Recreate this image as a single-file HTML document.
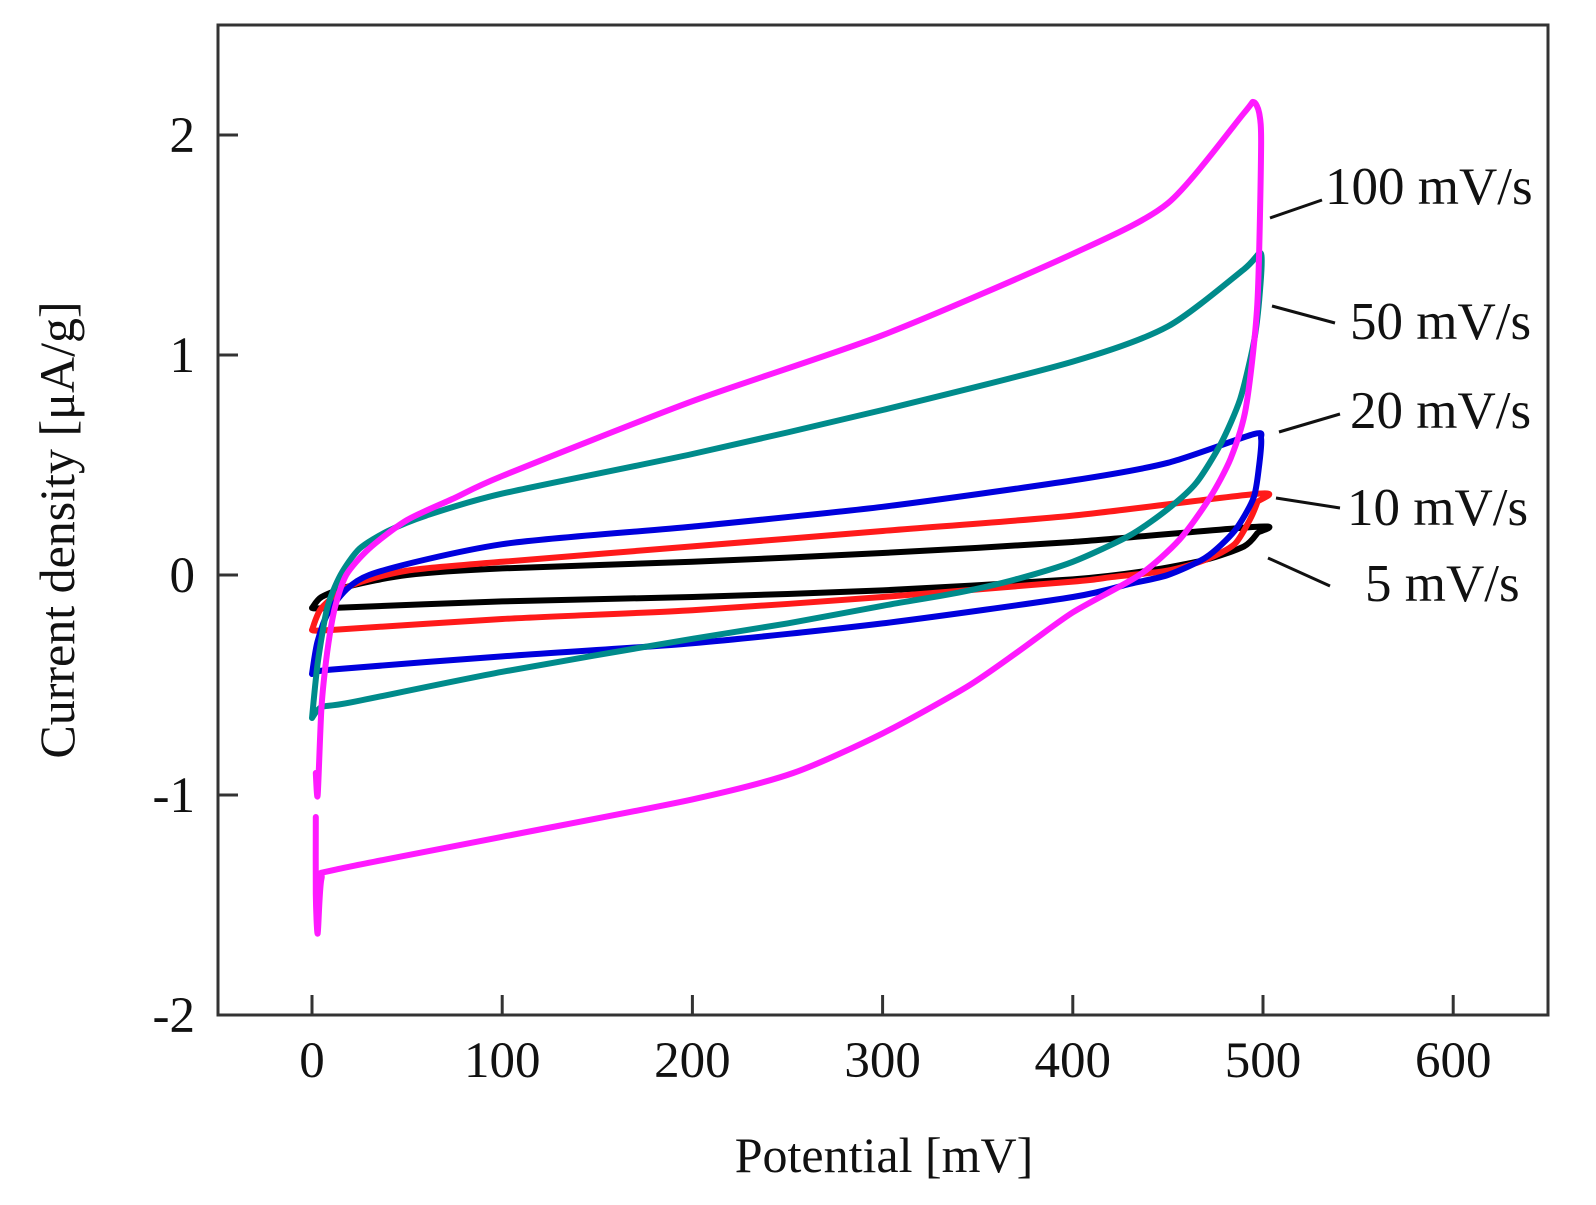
<!DOCTYPE html>
<html><head><meta charset="utf-8"><style>
html,body{margin:0;padding:0;background:#fff;}
svg{display:block;font-family:"Liberation Serif",serif;}
</style></head><body>
<svg id="chart" width="1596" height="1205" viewBox="0 0 1596 1205" xmlns="http://www.w3.org/2000/svg">
<g id="marks"></g>
<rect x="218" y="25" width="1330" height="990" fill="none" stroke="#333" stroke-width="3"/>
<g id="axes"></g>
<text x="884" y="1172" font-size="50" text-anchor="middle" fill="#111">Potential [mV]</text>
<text transform="translate(74,530) rotate(-90)" font-size="50" text-anchor="middle" fill="#111">Current density [μA/g]</text>
<g stroke="#111" stroke-width="3" font-size="53" fill="#111">
<line x1="1270" y1="218" x2="1322" y2="200"/>
<text x="1325" y="204" stroke="none">100 mV/s</text>
<line x1="1272" y1="306" x2="1335" y2="323"/>
<text x="1350" y="339" stroke="none">50 mV/s</text>
<line x1="1279" y1="432" x2="1340" y2="414"/>
<text x="1350" y="428" stroke="none">20 mV/s</text>
<line x1="1276" y1="498" x2="1340" y2="508"/>
<text x="1347" y="525" stroke="none">10 mV/s</text>
<line x1="1268" y1="558" x2="1330" y2="586"/>
<text x="1365" y="601" stroke="none">5 mV/s</text>
</g>
</svg>
<script>
const xTicks = [0,100,200,300,400,500,600];
const yTicks = [-2,-1,0,1,2];
const yTickLabels = ["-2","-1","0","1","2"];
const s100x = [2,3,5,8,12,18,30,50,75,100,200,300,400,450,490,495,498,499,497,491,483,472,456,435,400,371,344,300,253,200,100,12,5,3,2,2];
const s100y = [-0.9,-1.0,-0.6,-0.35,-0.15,0.0,0.12,0.25,0.35,0.45,0.79,1.09,1.46,1.69,2.1,2.15,2.1,1.95,1.23,0.76,0.53,0.35,0.16,0.0,-0.17,-0.35,-0.51,-0.72,-0.9,-1.02,-1.19,-1.34,-1.38,-1.63,-1.45,-1.1];
const s50x = [0,3,8,15,25,40,60,100,200,300,400,450,490,499,498,495,488,478,465,450,430,400,370,340,300,250,200,100,20,5,0];
const s50y = [-0.65,-0.4,-0.15,0.0,0.12,0.2,0.27,0.37,0.55,0.75,0.97,1.13,1.39,1.46,1.25,1.05,0.8,0.6,0.42,0.3,0.18,0.06,-0.02,-0.08,-0.14,-0.22,-0.29,-0.44,-0.58,-0.6,-0.65];
const s20x = [0,3,10,30,100,200,300,400,450,495,499,498,495,485,470,450,430,400,300,200,100,10,0];
const s20y = [-0.45,-0.3,-0.15,0.0,0.14,0.22,0.31,0.43,0.51,0.64,0.62,0.5,0.35,0.2,0.08,0.0,-0.04,-0.1,-0.22,-0.31,-0.37,-0.43,-0.45];
const s10x = [0,5,20,50,100,200,300,400,498,497,493,485,470,450,420,400,300,200,100,10,0];
const s10y = [-0.25,-0.15,-0.05,0.02,0.06,0.13,0.2,0.27,0.37,0.33,0.25,0.14,0.07,0.02,-0.01,-0.03,-0.1,-0.16,-0.2,-0.25,-0.25];
const s5x = [0,5,20,50,100,200,300,400,498,497,490,470,440,400,300,200,100,10,0];
const s5y = [-0.15,-0.1,-0.05,0.0,0.03,0.06,0.1,0.15,0.22,0.19,0.13,0.07,0.02,-0.02,-0.07,-0.1,-0.12,-0.15,-0.15];

const xs = v => 312 + v * 1.902;
const ys = v => 575 - v * 220;
const NS = "http://www.w3.org/2000/svg";
const marks = document.getElementById('marks');
const axes = document.getElementById('axes');

function smoothPath(pts) {
  let d = 'M' + pts[0][0].toFixed(1) + ',' + pts[0][1].toFixed(1);
  for (let i = 0; i < pts.length - 1; i++) {
    const p0 = pts[Math.max(0, i - 1)], p1 = pts[i], p2 = pts[i + 1], p3 = pts[Math.min(pts.length - 1, i + 2)];
    const t = 1 / 8;
    const c1 = [p1[0] + (p2[0] - p0[0]) * t, p1[1] + (p2[1] - p0[1]) * t];
    const c2 = [p2[0] - (p3[0] - p1[0]) * t, p2[1] - (p3[1] - p1[1]) * t];
    d += ' C' + c1[0].toFixed(1) + ',' + c1[1].toFixed(1) + ' ' + c2[0].toFixed(1) + ',' + c2[1].toFixed(1) + ' ' + p2[0].toFixed(1) + ',' + p2[1].toFixed(1);
  }
  return d;
}
function drawSeries(xa, ya, color, name) {
  const pts = xa.map((x, i) => [xs(x), ys(ya[i])]);
  const p = document.createElementNS(NS, 'path');
  p.setAttribute('d', smoothPath(pts));
  p.setAttribute('fill', 'none');
  p.setAttribute('stroke', color);
  p.setAttribute('stroke-width', '6');
  p.setAttribute('stroke-linejoin', 'round');
  p.setAttribute('stroke-linecap', 'round');
  
  
  marks.appendChild(p);
}
drawSeries(s5x, s5y, '#000000', 'series-5mvs');
drawSeries(s10x, s10y, '#ff1a1a', 'series-10mvs');
drawSeries(s20x, s20y, '#0000dd', 'series-20mvs');
drawSeries(s50x, s50y, '#008b8b', 'series-50mvs');
drawSeries(s100x, s100y, '#ff1aff', 'series-100mvs');

xTicks.forEach(t => {
  const l = document.createElementNS(NS, 'line');
  l.setAttribute('x1', xs(t)); l.setAttribute('x2', xs(t));
  l.setAttribute('y1', 1015); l.setAttribute('y2', 995);
  l.setAttribute('stroke', '#333'); l.setAttribute('stroke-width', '3');
  
  
  axes.appendChild(l);
  const tx = document.createElementNS(NS, 'text');
  tx.setAttribute('x', xs(t)); tx.setAttribute('y', 1077);
  tx.setAttribute('font-size', '51'); tx.setAttribute('text-anchor', 'middle'); tx.setAttribute('fill', '#111');
  tx.textContent = String(t);
  
  
  axes.appendChild(tx);
});
yTicks.forEach((t, i) => {
  const l = document.createElementNS(NS, 'line');
  l.setAttribute('x1', 218); l.setAttribute('x2', 238);
  l.setAttribute('y1', ys(t)); l.setAttribute('y2', ys(t));
  l.setAttribute('stroke', '#333'); l.setAttribute('stroke-width', '3');
  
  
  axes.appendChild(l);
  const tx = document.createElementNS(NS, 'text');
  tx.setAttribute('x', 195); tx.setAttribute('y', ys(t) + 17);
  tx.setAttribute('font-size', '51'); tx.setAttribute('text-anchor', 'end'); tx.setAttribute('fill', '#111');
  tx.textContent = yTickLabels[i];
  
  
  axes.appendChild(tx);
});
</script>
</body></html>
